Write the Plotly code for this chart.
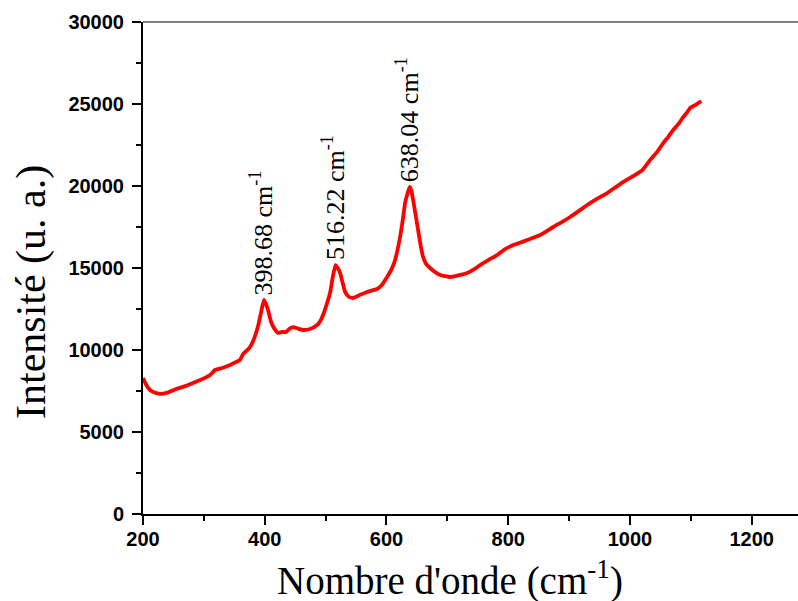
import plotly.graph_objects as go

# Raman spectrum: wavenumber (cm-1) and intensity (a.u.)
wavenumber = [200, 205, 211.5, 218, 227.9, 240, 254.2, 268, 282.2, 296, 310.1, 318.3,
              330, 343.0, 352, 359.4, 364.3, 370, 375.8, 381, 385.7, 390, 394, 398.68,
              402, 405.4, 410.4, 415, 421.9, 428, 435.0, 441, 446.5, 455, 463.0, 474.4,
              486.0, 491, 495.8, 501, 507.3, 512, 516.22, 520, 523.7, 528, 532.0, 538,
              545.1, 556, 568.1, 584.5, 592, 601.0, 608, 614.1, 622.3, 627, 630.5, 635,
              638.04, 641, 643.7, 648, 651.9, 656, 660.1, 665, 671.6, 680, 688.1, 696,
              704.5, 718, 732.5, 745, 753.8, 768, 781.8, 795, 808.1, 820, 831.1, 852.4,
              873.8, 888, 901.7, 915, 929.7, 945, 962.5, 985, 1005.3, 1020, 1033.2,
              1045, 1054.6, 1063, 1071.0, 1080, 1087.5, 1094, 1099.0, 1108, 1117.0]
intensity = [8290, 7900, 7560, 7420, 7320, 7400, 7620, 7780, 7990, 8200, 8480, 8780,
             8900, 9090, 9250, 9400, 9750, 9950, 10180, 10550, 11040, 11600, 12300, 13050,
             12800, 12440, 11710, 11350, 11040, 11100, 11100, 11300, 11400, 11300, 11220, 11280,
             11520, 11750, 12130, 12700, 13480, 14500, 15180, 15000, 14700, 14100, 13540, 13250,
             13170, 13350, 13540, 13720, 13950, 14450, 14900, 15490, 16890, 18000, 18960, 19600,
             19940, 19700, 19150, 18200, 17320, 16400, 15670, 15250, 15000, 14750, 14570, 14500,
             14450, 14550, 14700, 14950, 15180, 15500, 15790, 16150, 16400, 16550, 16710, 17010,
             17500, 17800, 18110, 18450, 18840, 19200, 19570, 20150, 20600, 20950, 21590,
             22100, 22620, 23000, 23420, 23800, 24210, 24500, 24760, 24950, 25180]

# Assigned peak positions (cm-1) and their intensities
peak_pos = [398.68, 516.22, 638.04]
peak_int = [13050, 15180, 19940]
peak_text = ["398.68 cm<sup>-1</sup>", "516.22 cm<sup>-1</sup>", "638.04 cm<sup>-1</sup>"]

x_ticks = [200, 400, 600, 800, 1000, 1200]
y_ticks = [0, 5000, 10000, 15000, 20000, 25000, 30000]

fig = go.Figure()
fig.add_trace(go.Scatter(
    x=wavenumber, y=intensity, mode="lines",
    line=dict(color="#ff0000", width=3.8, shape="spline", smoothing=0.4),
    showlegend=False, hoverinfo="skip",
))

for px_, py_, txt in zip(peak_pos, peak_int, peak_text):
    fig.add_annotation(
        x=px_, y=py_, text=txt, showarrow=False, textangle=-90,
        xanchor="center", yanchor="bottom", yshift=3, xshift=-2,
        font=dict(family="Liberation Serif", size=26, color="black"),
    )

tick_font = dict(family="Liberation Sans", size=20, color="black", weight="bold")

fig.update_layout(
    width=798, height=601,
    margin=dict(l=143, r=0, t=22, b=87),
    plot_bgcolor="white", paper_bgcolor="white",
    xaxis=dict(
        range=[200, 1276], tickvals=x_ticks, ticktext=[str(v) for v in x_ticks],
        showgrid=False, zeroline=False, showline=True, linecolor="black", linewidth=2,
        ticks="outside", ticklen=9, tickwidth=2, tickcolor="black",
        tickfont=tick_font, ticklabelstandoff=-3,
        minor=dict(dtick=100, tick0=200, ticks="outside", ticklen=5, tickwidth=2,
                   tickcolor="black", showgrid=False),
    ),
    yaxis=dict(
        range=[0, 30000], tickvals=y_ticks, ticktext=[str(v) for v in y_ticks],
        showgrid=False, zeroline=False, showline=True, linecolor="black", linewidth=2,
        ticks="outside", ticklen=9, tickwidth=2, tickcolor="black",
        tickfont=tick_font, ticklabelstandoff=4,
        minor=dict(dtick=2500, tick0=0, ticks="outside", ticklen=5, tickwidth=2,
                   tickcolor="black", showgrid=False),
    ),
)

# Top frame line
fig.add_shape(type="line", xref="paper", yref="paper", x0=0, x1=1, y0=1, y1=1,
              line=dict(color="#808080", width=2))

# Axis titles
fig.add_annotation(
    xref="paper", yref="paper", x=(450 - 143) / 655, y=-(578 - 514) / 492,
    text="Nombre d'onde (cm<sup>-1</sup>)", showarrow=False,
    xanchor="center", yanchor="middle",
    font=dict(family="Liberation Serif", size=39, color="black"),
)
fig.add_annotation(
    xref="paper", yref="paper", x=(31 - 143) / 655, y=(514 - 292) / 492,
    text="Intensité (u. a.)", showarrow=False, textangle=-90,
    xanchor="center", yanchor="middle",
    font=dict(family="Liberation Serif", size=42, color="black"),
)

fig.write_html("out.html")
